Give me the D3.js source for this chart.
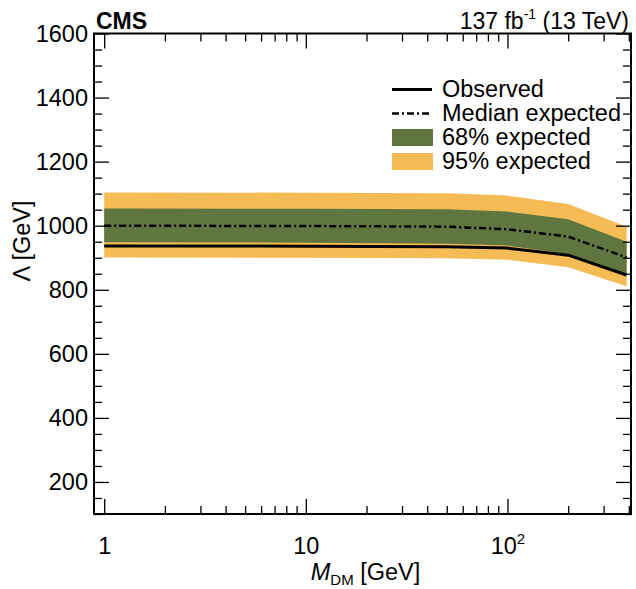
<!DOCTYPE html>
<html>
<head>
<meta charset="utf-8">
<script src="https://cdn.jsdelivr.net/npm/d3@7"></script>
<style>
  body { margin: 0; background: #fff; }
  svg text { font-family: "Liberation Sans", Arial, Helvetica, sans-serif; fill: #000; }
</style>
</head>
<body>
<div id="chart"></div>
<script>
// values
const massPoints = [1, 10, 50, 100, 200, 390];
const observed   = [937, 936, 934, 930, 908, 846];
const expected   = [1000, 999, 997, 989, 966, 901];
const band68Low  = [948, 947, 944, 938, 912, 847];
const band68High = [1054, 1053, 1051, 1044, 1020, 950];
const band95Low  = [901, 900, 898, 894, 870, 811];
const band95High = [1104, 1103, 1101, 1094, 1068, 997];

const yMajorTicks = [200, 400, 600, 800, 1000, 1200, 1400, 1600];
const xMajorTicks = [1, 10, 100];
const xMajorLabels = ["1", "10", "10|2"];
const legendEntries = ["Observed", "Median expected", "68% expected", "95% expected"];

const width = 636, height = 589;
const margin = { top: 33.5, right: 5, bottom: 75, left: 94 };
const innerW = width - margin.left - margin.right;
const innerH = height - margin.top - margin.bottom;

const colGreen = "#607641";
const colYellow = "#F5BB54";
const fs = 23.5;

const svg = d3.select("#chart").append("svg")
  .attr("width", width)
  .attr("height", height);

const g = svg.append("g")
  .attr("transform", "translate(" + margin.left + "," + margin.top + ")");

const x = d3.scaleLog().domain([0.89, 410]).range([0, innerW]);
const y = d3.scaleLinear().domain([100, 1600]).range([innerH, 0]);

const rows = massPoints.map((m, i) => ({
  m: m, obs: observed[i], exp: expected[i],
  lo68: band68Low[i], hi68: band68High[i],
  lo95: band95Low[i], hi95: band95High[i]
}));

// bands
g.append("path")
  .datum(rows)
  .attr("fill", colYellow)
  .attr("d", d3.area().x(d => x(d.m)).y0(d => y(d.lo95)).y1(d => y(d.hi95)));

g.append("path")
  .datum(rows)
  .attr("fill", colGreen)
  .attr("d", d3.area().x(d => x(d.m)).y0(d => y(d.lo68)).y1(d => y(d.hi68)));

// lines
g.append("path")
  .datum(rows)
  .attr("fill", "none")
  .attr("stroke", "#000")
  .attr("stroke-width", 2.5)
  .attr("stroke-dasharray", "7,3,2,3")
  .attr("d", d3.line().x(d => x(d.m)).y(d => y(d.exp)));

g.append("path")
  .datum(rows)
  .attr("fill", "none")
  .attr("stroke", "#000")
  .attr("stroke-width", 3)
  .attr("d", d3.line().x(d => x(d.m)).y(d => y(d.obs)));

// minor tick values
const yMinor = d3.range(100, 1601, 50).filter(v => v % 200 !== 0);
const xMinor = [];
[1, 10, 100].forEach(dec => {
  for (let k = 2; k <= 9; k++) {
    const v = dec * k;
    if (v <= 410) xMinor.push(v);
  }
});

function styleAxis(sel) {
  sel.select(".domain").remove();
  sel.selectAll("line").attr("stroke", "#000").attr("stroke-width", 1.3);
}

// y axis left
g.append("g")
  .call(d3.axisLeft(y).tickValues(yMajorTicks).tickSize(-15).tickPadding(6).tickFormat(d3.format("d")))
  .call(styleAxis)
  .selectAll("text").attr("font-size", fs);
g.append("g")
  .call(d3.axisLeft(y).tickValues(yMinor).tickSize(-8).tickFormat(""))
  .call(styleAxis);
// y axis right (mirror)
g.append("g")
  .attr("transform", "translate(" + innerW + ",0)")
  .call(d3.axisRight(y).tickValues(yMajorTicks).tickSize(-15).tickFormat(""))
  .call(styleAxis);
g.append("g")
  .attr("transform", "translate(" + innerW + ",0)")
  .call(d3.axisRight(y).tickValues(yMinor).tickSize(-8).tickFormat(""))
  .call(styleAxis);

// x axis bottom
const xAxisG = g.append("g")
  .attr("transform", "translate(0," + innerH + ")")
  .call(d3.axisBottom(x).tickValues(xMajorTicks).tickSize(-15).tickFormat(""))
  .call(styleAxis);
xAxisG.selectAll(".tick").each(function(d, i) {
  const parts = xMajorLabels[i].split("|");
  const t = d3.select(this).append("text")
    .attr("y", 40)
    .attr("text-anchor", "middle")
    .attr("font-size", fs);
  t.append("tspan").text(parts[0]);
  if (parts[1]) {
    t.append("tspan").attr("font-size", 15).attr("dy", -10).text(parts[1]);
  }
});
g.append("g")
  .attr("transform", "translate(0," + innerH + ")")
  .call(d3.axisBottom(x).tickValues(xMinor).tickSize(-8).tickFormat(""))
  .call(styleAxis);
// x axis top (mirror)
g.append("g")
  .call(d3.axisTop(x).tickValues(xMajorTicks).tickSize(-15).tickFormat(""))
  .call(styleAxis);
g.append("g")
  .call(d3.axisTop(x).tickValues(xMinor).tickSize(-8).tickFormat(""))
  .call(styleAxis);

// frame
g.append("rect")
  .attr("width", innerW)
  .attr("height", innerH)
  .attr("fill", "none")
  .attr("stroke", "#000")
  .attr("stroke-width", 2);

// axis titles
const xTitle = svg.append("text")
  .attr("x", margin.left + innerW / 2 + 3)
  .attr("y", 580)
  .attr("text-anchor", "middle")
  .attr("font-size", fs);
xTitle.append("tspan").attr("font-style", "italic").text("M");
xTitle.append("tspan").attr("font-size", 15).attr("dy", 5).text("DM");
xTitle.append("tspan").attr("dy", -5).text(" [GeV]");

svg.append("text")
  .attr("transform", "translate(30,241) rotate(-90)")
  .attr("text-anchor", "middle")
  .attr("font-size", fs)
  .text("\u039B [GeV]");

// header
svg.append("text")
  .attr("x", 96)
  .attr("y", 29)
  .attr("font-size", 23)
  .attr("font-weight", "bold")
  .text("CMS");

const lumi = svg.append("text")
  .attr("x", 629)
  .attr("y", 29)
  .attr("text-anchor", "end")
  .attr("font-size", 23);
lumi.append("tspan").text("137 fb");
lumi.append("tspan").attr("font-size", 14).attr("dy", -10).text("-1");
lumi.append("tspan").attr("dy", 10).text(" (13 TeV)");

// legend
const legend = svg.append("g");
const legendX = 392, legendTextX = 442, legendY0 = 97, legendDy = 24;
legendEntries.forEach((name, i) => {
  const yy = legendY0 + i * legendDy;
  const mid = yy - 7.5;
  if (i === 0) {
    legend.append("line").attr("x1", legendX).attr("x2", legendX + 40)
      .attr("y1", mid).attr("y2", mid).attr("stroke", "#000").attr("stroke-width", 3);
  } else if (i === 1) {
    legend.append("line").attr("x1", legendX).attr("x2", legendX + 40)
      .attr("y1", mid).attr("y2", mid).attr("stroke", "#000").attr("stroke-width", 2.5)
      .attr("stroke-dasharray", "7,3,2,3");
  } else {
    legend.append("rect").attr("x", legendX).attr("y", mid - 8.5)
      .attr("width", 41).attr("height", 17)
      .attr("fill", i === 2 ? colGreen : colYellow);
  }
  legend.append("text").attr("x", legendTextX).attr("y", yy)
    .attr("font-size", fs).text(name);
});
</script>
</body>
</html>
